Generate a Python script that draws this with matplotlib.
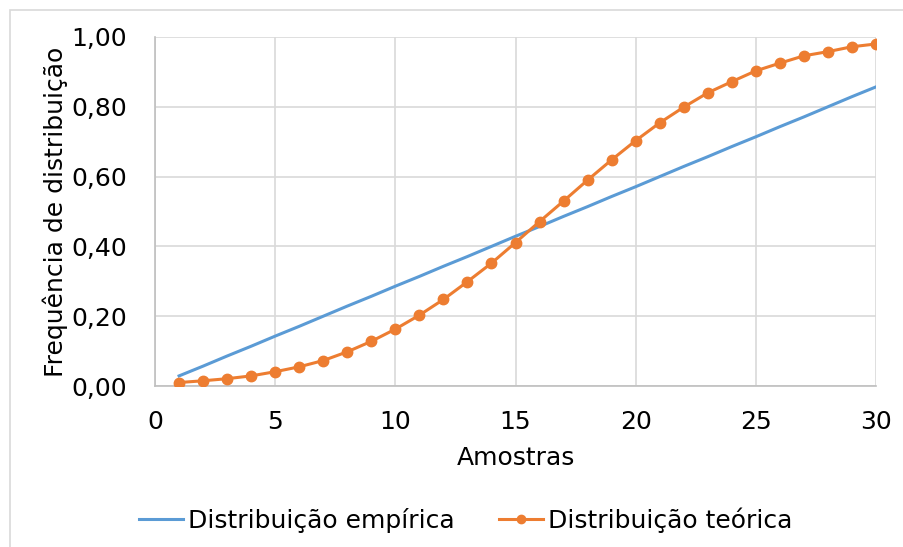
import matplotlib.pyplot as plt
from matplotlib.patches import Rectangle
from matplotlib.ticker import FuncFormatter

amostras = list(range(1, 31))

dist_empirica = [0.029, 0.057, 0.086, 0.114, 0.143, 0.171, 0.200, 0.229, 0.257, 0.286,
                 0.314, 0.343, 0.371, 0.400, 0.429, 0.457, 0.486, 0.514, 0.543, 0.571,
                 0.600, 0.629, 0.657, 0.686, 0.714, 0.743, 0.771, 0.800, 0.829, 0.857]

dist_teorica = [0.010, 0.015, 0.021, 0.029, 0.041, 0.055, 0.073, 0.098, 0.128, 0.163,
                0.203, 0.248, 0.299, 0.352, 0.411, 0.471, 0.530, 0.590, 0.648, 0.703,
                0.754, 0.799, 0.840, 0.872, 0.903, 0.925, 0.946, 0.958, 0.972, 0.980]

plt.rcParams['font.family'] = ['DejaVu Sans']

fig = plt.figure(figsize=(9.04, 5.47), dpi=100)
ax = fig.add_axes([0.1715, 0.2943, 0.7975, 0.6381])

# chart frame, clipped by the figure on the right and bottom
W, H = 904, 547
fig.patches.append(Rectangle((10 / W, -0.05), 1.2, (H - 10) / H + 0.05,
                             transform=fig.transFigure, fill=False,
                             edgecolor='#d9d9d9', linewidth=1.2))

ax.plot(amostras, dist_empirica, color='#5b9bd5', linewidth=2.2,
        label='Distribuição empírica', zorder=3)
ax.plot(amostras, dist_teorica, color='#ed7d31', linewidth=2.2, marker='o',
        markersize=7.5, label='Distribuição teórica', zorder=4)

ax.set_xlim(0, 30)
ax.set_ylim(0, 1)
ax.set_xticks(range(0, 31, 5))
ax.set_yticks([0, 0.2, 0.4, 0.6, 0.8, 1.0])
ax.yaxis.set_major_formatter(FuncFormatter(lambda v, p: f'{v:.2f}'.replace('.', ',')))

ax.grid(True, color='#d9d9d9', linewidth=1.2)
ax.set_axisbelow(True)
for side in ['top', 'right']:
    ax.spines[side].set_visible(False)
for side in ['left', 'bottom']:
    ax.spines[side].set_color('#bfbfbf')
    ax.spines[side].set_linewidth(1.2)
ax.tick_params(axis='x', length=0, labelsize=18, colors='black', pad=17)
ax.tick_params(axis='y', length=0, labelsize=18, colors='black', pad=20)

ax.set_xlabel('Amostras', fontsize=18)
ax.set_ylabel('Frequência de distribuição', fontsize=18, va='center')
ax.xaxis.set_label_coords(0.5, -0.172)
ax.yaxis.set_label_coords(-0.139, 0.5)

fig.legend(loc='center', bbox_to_anchor=(0.515, 0.049), ncol=2, frameon=False,
           fontsize=18, handlelength=1.75, handletextpad=0.2, columnspacing=1.8,
           markerscale=0.8)

fig.savefig('out.png', dpi=100)
